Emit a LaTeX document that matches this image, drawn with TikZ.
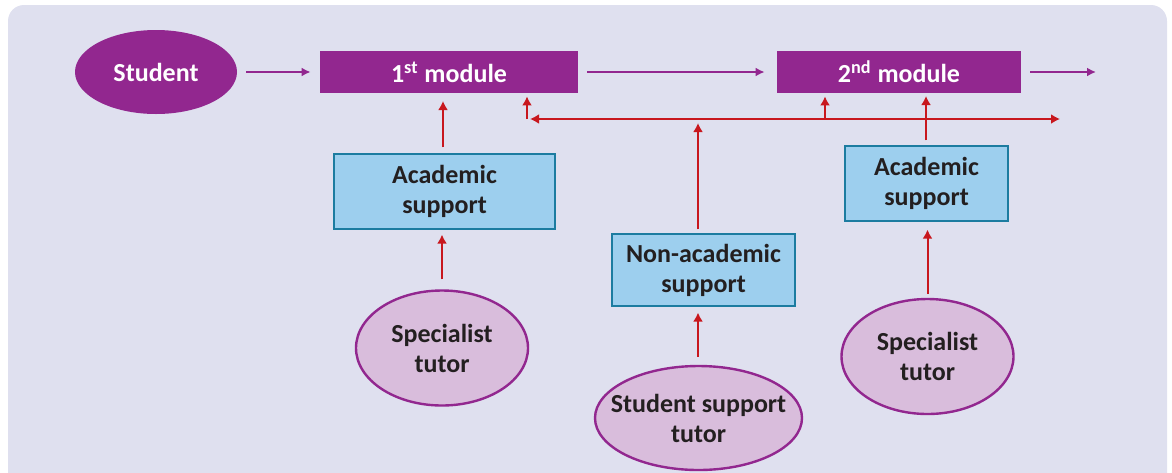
\documentclass[tikz,border=0pt]{standalone}
\usepackage{fontspec}
\setmainfont{Carlito}
\usepackage{xcolor}
\usepackage{tikz}
\usetikzlibrary{shapes.geometric,arrows.meta}
\definecolor{modpurple}{HTML}{92278F}
\definecolor{supred}{HTML}{C8171E}
\definecolor{boxblue}{HTML}{9DCFEE}
\definecolor{boxedge}{HTML}{1C7CA0}
\definecolor{tutorpink}{HTML}{D9BDDC}
\definecolor{bgpanel}{HTML}{DFE0EF}
\definecolor{inktext}{HTML}{231F20}

\begin{document}
\begin{tikzpicture}[x=0.5pt,y=-0.5pt,
  font=\fontsize{13}{15}\selectfont\bfseries,
  module/.style={rectangle,fill=modpurple,text=white,minimum height=21pt,inner sep=0pt},
  support/.style={rectangle,draw=boxedge,line width=0.6pt,fill=boxblue,text=inktext,align=center,minimum height=37.5pt,inner sep=0pt},
  tutor/.style={ellipse,draw=modpurple,line width=1.2pt,fill=tutorpink,text=inktext,align=center,minimum width=86pt,minimum height=57.5pt,inner sep=0pt},
  flow/.style={-{Latex[length=4.5pt,width=4.5pt]},modpurple,line width=1pt,shorten <=4.5pt,shorten >=4.5pt},
  help/.style={-{Latex[length=4.5pt,width=5pt]},supred,line width=1pt}]
  \useasboundingbox (0,0) rectangle (1172,472);
  \fill[bgpanel,rounded corners=8pt] (8,5) rectangle (1167,500);

  \node[ellipse,fill=modpurple,text=white,minimum width=81pt,minimum height=42pt,inner sep=0pt] (student) at (156,72) {Student};
  \node[module,minimum width=129pt] (mod1) at (449,72) {1\textsuperscript{st} module};
  \node[module,minimum width=122pt] (mod2) at (899,72) {2\textsuperscript{nd} module};
  \node[support,minimum width=110.5pt] (acad1) at (444.5,191.5) {Academic\\support};
  \node[support,minimum width=81.5pt] (acad2) at (926.5,183.5) {Academic\\support};
  \node[support,minimum width=91.5pt,minimum height=36pt] (nonacad) at (703.5,270) {Non-academic\\support};
  \node[tutor] (spec1) at (442,348) {Specialist\\tutor};
  \node[tutor,minimum width=103.5pt,minimum height=52pt,inner xsep=-7.5pt] (sstutor) at (698.5,418) {Student support\\tutor};
  \node[tutor] (spec2) at (927.5,356.5) {Specialist\\tutor};
  \coordinate (out) at (1096,72);
  \coordinate (busmid) at (698,119);
  \coordinate (busleft) at (527,119);
  \coordinate (busjoin) at (825,119);
  \coordinate (busright) at (1060,119);

  \path[flow]
    (student) edge (mod1)
    (mod1) edge [shorten >=6pt] (mod2)
    (mod2) edge [shorten >=0pt] (out);
  \path[help]
    (spec1.north) edge [shorten <=5pt,shorten >=2.5pt] (spec1.north |- acad1.south)
    (acad1.north -| 443,0) edge [shorten <=3pt,shorten >=4pt] (443,93)
    (sstutor.north -| busmid) edge [shorten <=4pt,shorten >=3pt] (nonacad.south -| busmid)
    (nonacad.north -| busmid) edge [shorten <=2pt,shorten >=2pt] (busmid)
    (busmid) edge [shorten >=1.5pt] (busleft)
    (busmid) edge (busright)
    (busleft) edge [shorten >=1.5pt] (busleft |- mod1.south)
    (busjoin) edge [shorten >=1.5pt] (busjoin |- mod2.south)
    (acad2.north -| 926,0) edge [shorten <=2.5pt,shorten >=1.5pt] (926,93)
    (spec2.north) edge [shorten <=2pt,shorten >=4pt] (spec2.north |- acad2.south);
\end{tikzpicture}
\end{document}
